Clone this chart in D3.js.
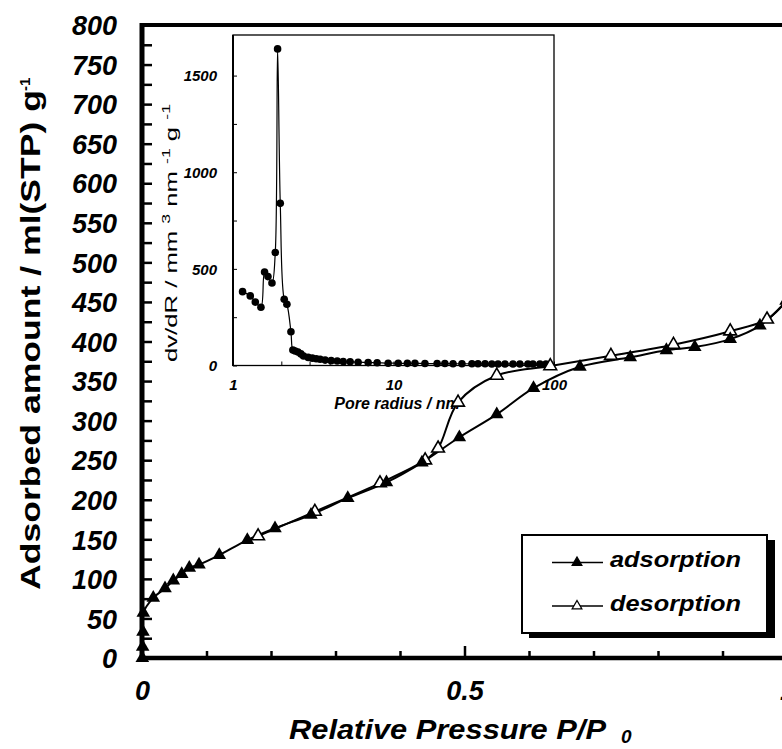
<!DOCTYPE html>
<html>
<head>
<meta charset="utf-8">
<script src="https://cdn.jsdelivr.net/npm/d3@7"></script>
<style>
  body { margin: 0; background: #fff; }
  text { font-family: "Liberation Sans", Arial, sans-serif; fill: #000; }
</style>
</head>
<body>
<div id="graph"></div>
<script>
// isotherm: relative pressure P/P0 and adsorbed amount (ml(STP)/g)
const adsP = [0.0005, 0.001, 0.0015, 0.002, 0.0175, 0.0357, 0.0485, 0.0616, 0.0733, 0.0884, 0.1198, 0.1633, 0.2062, 0.262, 0.319, 0.379, 0.434, 0.492, 0.550, 0.607, 0.679, 0.757, 0.813, 0.857, 0.912, 0.958, 1.0];
const adsV = [0, 14, 33, 57, 76, 88, 98, 106, 114, 118, 130, 149, 164, 181, 202, 222, 247, 279, 308, 341, 368, 380, 389, 393, 403, 420, 452];
const desP = [0.180, 0.268, 0.369, 0.439, 0.459, 0.490, 0.550, 0.633, 0.727, 0.824, 0.912, 0.969, 1.0];
const desV = [154, 185, 221, 250, 265, 323, 357, 369, 382, 396, 413, 428, 452];

// inset: pore radius (nm) and dv/dR
const poreR = [1.147, 1.281, 1.377, 1.493, 1.573, 1.651, 1.749, 1.834, 1.896, 1.970, 2.085, 2.167, 2.296, 2.36, 2.44, 2.54, 2.65, 2.75, 2.94, 3.12, 3.30, 3.49, 3.75, 4.09, 4.46, 4.86, 5.37, 6.02, 6.95, 7.91, 9.26, 10.7, 12.2, 13.6, 15.7, 18.7, 20.9, 23.5, 26.7, 30.8, 33.6, 37.2, 41.0, 44.8, 49.5, 55.5, 61.3, 68.8, 73.9, 81.7, 89.1];
const poreDv = [382, 360, 328, 301, 484, 460, 427, 585, 1638, 839, 343, 317, 175, 80, 75, 70, 60, 49, 42, 38, 35, 32, 28, 25, 23, 21, 19, 17, 15, 14, 12, 12, 11, 11, 10, 10, 10, 9, 9, 9, 9, 9, 8, 8, 8, 8, 8, 8, 8, 8, 8];

// ticks
const yLabels = [0, 50, 100, 150, 200, 250, 300, 350, 400, 450, 500, 550, 600, 650, 700, 750, 800];
const yMinor = d3.range(0, 801, 25);
const xTicks = [0, 0.1, 0.2, 0.3, 0.4, 0.5, 0.6, 0.7, 0.8, 0.9, 1];
const xLabels = [0, 0.5, 1];
const yiTicks = [0, 250, 500, 750, 1000, 1250, 1500];
const yiLabels = [0, 500, 1000, 1500];
const xiLabels = [1, 10, 100];
const xiMinor = [2, 3, 4, 5, 6, 7, 8, 9, 20, 30, 40, 50, 60, 70, 80, 90];

const width = 782;
const height = 749;

const svg = d3.select("#graph")
              .append("svg")
              .attr("width", width)
              .attr("height", height);

const x = d3.scaleLinear().domain([0, 1]).range([142, 787]);
const y = d3.scaleLinear().domain([0, 800]).range([658, 25]);

const bold = s => s.style("font-weight", "bold").style("font-style", "italic");

// ---- main axes
const yAxis = d3.axisLeft(y)
                .tickValues(yMinor)
                .tickSizeInner(-10)
                .tickSizeOuter(0)
                .tickPadding(25)
                .tickFormat(d => yLabels.includes(d) ? d : "");

svg.append("g")
   .attr("transform", "translate(142,0)")
   .call(yAxis)
   .call(g => g.select(".domain").remove())
   .call(g => g.selectAll("line").attr("stroke", "#000").attr("stroke-width", 2.5))
   .call(g => g.selectAll("text").style("font-size", "27px").attr("dy", "0.36em").call(bold));

const xAxis = d3.axisBottom(x)
                .tickValues(xTicks)
                .tickSizeInner(-7)
                .tickSizeOuter(0)
                .tickPadding(23)
                .tickFormat(d => xLabels.includes(d) ? d3.format("~g")(d) : "");

svg.append("g")
   .attr("transform", "translate(0,658)")
   .call(xAxis)
   .call(g => g.select(".domain").remove())
   .call(g => g.selectAll("line").attr("stroke", "#000").attr("stroke-width", 2.5)
               .attr("y2", d => d === 0.5 ? -12 : -7))
   .call(g => g.selectAll("text").style("font-size", "27px").call(bold));

svg.append("line").attr("x1", 142).attr("x2", 142).attr("y1", 23).attr("y2", 660.5)
   .attr("stroke", "#000").attr("stroke-width", 5);
svg.append("line").attr("x1", 140).attr("x2", width).attr("y1", 658).attr("y2", 658)
   .attr("stroke", "#000").attr("stroke-width", 4.5);
svg.append("line").attr("x1", 140).attr("x2", width).attr("y1", 25).attr("y2", 25)
   .attr("stroke", "#000").attr("stroke-width", 4);

// ---- inset: pore size distribution
const xi = d3.scaleLog().domain([1, 100]).range([233, 554]);
const yi = d3.scaleLinear().domain([0, 1710]).range([365.5, 35]);

const inset = svg.append("g");

inset.append("rect")
     .attr("x", 233).attr("y", 35).attr("width", 321).attr("height", 330.5)
     .attr("fill", "#fff").attr("stroke", "#000").attr("stroke-width", 1.3);
inset.append("line").attr("x1", 233).attr("x2", 233).attr("y1", 35).attr("y2", 366)
     .attr("stroke", "#000").attr("stroke-width", 2);

inset.append("g")
     .attr("transform", "translate(233,0)")
     .call(d3.axisLeft(yi).tickValues(yiTicks).tickSizeInner(-4).tickSizeOuter(0).tickPadding(16)
             .tickFormat(d => yiLabels.includes(d) ? d : ""))
     .call(g => g.select(".domain").remove())
     .call(g => g.selectAll("line").attr("stroke", "#000"))
     .call(g => g.selectAll("text").style("font-size", "15px").attr("dy", "0.36em").call(bold));

inset.append("g")
     .attr("transform", "translate(0,365.5)")
     .call(d3.axisBottom(xi).tickValues(xiLabels.concat(xiMinor)).tickSizeInner(-4).tickSizeOuter(0).tickPadding(14)
             .tickFormat(d => xiLabels.includes(d) ? d : ""))
     .call(g => g.select(".domain").remove())
     .call(g => g.selectAll("line").attr("stroke", "#000"))
     .call(g => g.selectAll("text").style("font-size", "15px").call(bold));

const pore = poreR.map((r, i) => [r, poreDv[i]]);

inset.append("path")
     .datum(pore)
     .attr("fill", "none")
     .attr("stroke", "#000")
     .attr("stroke-width", 1.2)
     .attr("d", d3.line().x(d => xi(d[0])).y(d => yi(d[1])).curve(d3.curveCatmullRom.alpha(0.5)));

inset.selectAll("circle")
     .data(pore)
     .enter()
     .append("circle")
     .attr("cx", d => xi(d[0]))
     .attr("cy", d => yi(d[1]))
     .attr("r", 3.8)
     .attr("fill", "#000");

inset.append("text")
     .attr("x", 397).attr("y", 409)
     .attr("text-anchor", "middle")
     .style("font-size", "16px")
     .call(bold)
     .text("Pore radius / nm");

// rotated inset y title with superscripts
const it = inset.append("text")
                .attr("transform", "translate(177,362) rotate(-90)")
                .attr("textLength", 258)
                .attr("lengthAdjust", "spacingAndGlyphs")
                .style("font-size", "16px");
it.append("tspan").text("dv/dR / mm ");
it.append("tspan").attr("dy", -7).style("font-size", "11px").text("3");
it.append("tspan").attr("dy", 7).text(" nm ");
it.append("tspan").attr("dy", -7).style("font-size", "11px").text("-1");
it.append("tspan").attr("dy", 7).text(" g ");
it.append("tspan").attr("dy", -7).style("font-size", "11px").text("-1");

// ---- isotherm curves
const ads = adsP.map((p, i) => [p, adsV[i]]);
const des = desP.map((p, i) => [p, desV[i]]);

const line = d3.line()
               .x(d => x(d[0]))
               .y(d => y(d[1]))
               .curve(d3.curveCatmullRom.alpha(0.5));

[des, ads].forEach(data => {
  svg.append("path")
     .datum(data)
     .attr("fill", "none")
     .attr("stroke", "#000")
     .attr("stroke-width", 2)
     .attr("d", line);
});

const tri = d3.symbol().type(d3.symbolTriangle);

svg.selectAll(".des")
   .data(des)
   .enter()
   .append("path")
   .attr("class", "des")
   .attr("transform", d => "translate(" + x(d[0]) + "," + y(d[1]) + ")")
   .attr("d", tri.size(70)())
   .attr("fill", "#fff")
   .attr("stroke", "#000")
   .attr("stroke-width", 1.6);

svg.selectAll(".ads")
   .data(ads)
   .enter()
   .append("path")
   .attr("class", "ads")
   .attr("transform", d => "translate(" + x(d[0]) + "," + y(d[1]) + ")")
   .attr("d", tri.size(80)())
   .attr("fill", "#000");

// ---- legend
const legend = svg.append("g");
legend.append("rect").attr("x", 529).attr("y", 540).attr("width", 246).attr("height", 98).attr("fill", "#000");
legend.append("rect").attr("x", 522).attr("y", 535).attr("width", 245).attr("height", 98)
      .attr("fill", "#fff").attr("stroke", "#000").attr("stroke-width", 2);

[["adsorption", 562.5, "#000"], ["desorption", 606, "#fff"]].forEach(([name, ly, fill]) => {
  legend.append("line").attr("x1", 552).attr("x2", 603).attr("y1", ly).attr("y2", ly)
        .attr("stroke", "#000").attr("stroke-width", 1.5);
  legend.append("path")
        .attr("transform", "translate(577," + ly + ")")
        .attr("d", tri.size(40)())
        .attr("fill", fill)
        .attr("stroke", "#000")
        .attr("stroke-width", 1.3);
  legend.append("text")
        .attr("x", 610).attr("y", ly + 4.5)
        .attr("textLength", 131)
        .attr("lengthAdjust", "spacingAndGlyphs")
        .style("font-size", "22px")
        .call(bold)
        .text(name);
});

// ---- axis titles
svg.append("text")
   .attr("transform", "translate(40,590) rotate(-90)")
   .attr("textLength", 500)
   .attr("lengthAdjust", "spacingAndGlyphs")
   .style("font-size", "28px")
   .style("font-weight", "bold")
   .text("Adsorbed amount / ml(STP) g");
svg.append("text")
   .attr("transform", "translate(30,91) rotate(-90)")
   .style("font-size", "15px")
   .style("font-weight", "bold")
   .text("-1");

svg.append("text")
   .attr("x", 289).attr("y", 739)
   .attr("textLength", 317)
   .attr("lengthAdjust", "spacingAndGlyphs")
   .style("font-size", "28px")
   .call(bold)
   .text("Relative Pressure P/P");
svg.append("text")
   .attr("x", 621).attr("y", 743)
   .style("font-size", "19px")
   .call(bold)
   .text("0");
</script>
</body>
</html>
